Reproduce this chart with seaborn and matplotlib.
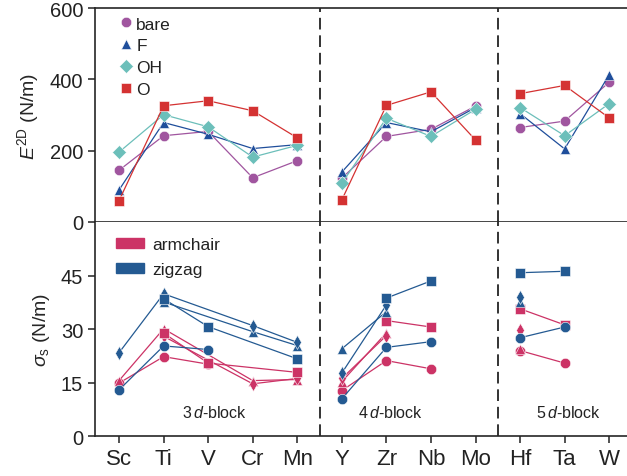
import numpy as np
import pandas as pd
import seaborn as sns
import matplotlib.pyplot as plt
from matplotlib.lines import Line2D
from matplotlib.patches import Patch

nan = np.nan

# elements on the x axis and the d-block they belong to
elements = ['Sc', 'Ti', 'V', 'Cr', 'Mn', 'Y', 'Zr', 'Nb', 'Mo', 'Hf', 'Ta', 'W']
blocks = ['3d'] * 5 + ['4d'] * 4 + ['5d'] * 3
terminations = ['bare', 'F', 'OH', 'O']

# 2D Young's modulus (N/m)
e2d_bare = [145, 242, 254, 124, 172, 123, 240, 260, 325, 265, 283, 392]
e2d_F = [90, 279, 246, 206, 217, 140, 279, 253, 321, 304, 205, 413]
e2d_OH = [196, 301, 267, 182, 215, 109, 291, 240, 316, 321, 242, 332]
e2d_O = [60, 326, 340, 312, 236, 62, 327, 365, 230, 360, 383, 292]

# ideal strength (N/m), armchair direction
arm_bare = [14.9, 22.3, 20.2, nan, nan, 12.8, 21.2, 18.9, nan, 24.0, 20.5, nan]
arm_F = [15.6, 30.1, nan, 15.6, 15.9, 15.3, 29.0, nan, nan, 24.5, nan, nan]
arm_OH = [nan, 28.0, nan, 14.7, 16.2, 16.2, 28.2, nan, nan, 29.9, nan, nan]
arm_O = [nan, 28.9, 20.5, nan, 17.9, nan, 32.4, 30.6, nan, 35.7, 31.2, nan]

# ideal strength (N/m), zigzag direction
zz_bare = [13.0, 25.3, 24.3, nan, nan, 10.5, 24.9, 26.5, nan, 27.6, 30.6, nan]
zz_F = [nan, 37.6, nan, 29.3, 25.4, 24.5, 34.9, nan, nan, 37.7, nan, nan]
zz_OH = [23.4, 39.9, nan, 31.0, 26.3, 17.7, 36.8, nan, nan, 39.0, nan, nan]
zz_O = [nan, 38.5, 30.7, nan, 21.7, nan, 38.7, 43.5, nan, 45.8, 46.2, nan]

term_colors = {'bare': '#a0559f', 'F': '#1f4e9b', 'OH': '#6cbfba', 'O': '#d43232'}
dir_colors = {'armchair': '#cc3366', 'zigzag': '#245a92'}

sns.set_theme(style='ticks')
plt.rcParams['font.family'] = ['Liberation Sans', 'DejaVu Sans']
plt.rcParams['mathtext.fontset'] = 'custom'
plt.rcParams['mathtext.rm'] = 'Liberation Sans'
plt.rcParams['mathtext.it'] = 'Liberation Sans:italic'
plt.rcParams['axes.linewidth'] = 1.2
plt.rcParams['text.color'] = '#222222'
plt.rcParams['xtick.color'] = '#222222'
plt.rcParams['ytick.color'] = '#222222'

# long tables for seaborn
top_rows = []
for term, vals in zip(terminations, [e2d_bare, e2d_F, e2d_OH, e2d_O]):
    for i, v in enumerate(vals):
        top_rows.append({'x': i, 'value': v, 'term': term, 'block': blocks[i]})
top_df = pd.DataFrame(top_rows)

low_rows = []
low_series = {
    'armchair': [arm_bare, arm_F, arm_OH, arm_O],
    'zigzag': [zz_bare, zz_F, zz_OH, zz_O],
}
for direction, series in low_series.items():
    for term, vals in zip(terminations, series):
        for i, v in enumerate(vals):
            low_rows.append({'x': i, 'value': v, 'term': term,
                             'direction': direction, 'block': blocks[i]})
low_df = pd.DataFrame(low_rows).dropna()

fig = plt.figure(figsize=(6.27, 4.77), dpi=100)
ax1 = fig.add_axes([0.1515, 0.5325, 0.8485, 0.4485])
ax2 = fig.add_axes([0.1515, 0.0832, 0.8485, 0.4493])

# top: E2D
sns.lineplot(data=top_df, x='x', y='value', hue='term', style='term',
             units='block', estimator=None, palette=term_colors,
             markers={'bare': 'o', 'F': '^', 'OH': 'D', 'O': 's'}, dashes=False,
             markersize=7.5, linewidth=0.9, markeredgecolor='white',
             markeredgewidth=0.4, legend=False, ax=ax1)

# bottom: ideal strength
sns.lineplot(data=low_df, x='x', y='value', hue='direction', style='term',
             units='block', estimator=None, palette=dir_colors,
             markers={'bare': 'o', 'F': '^', 'OH': 'd', 'O': 's'}, dashes=False,
             markersize=7.5, linewidth=0.9, markeredgecolor='white',
             markeredgewidth=0.4, legend=False, ax=ax2)

for ax in (ax1, ax2):
    ax.set_xlim(-0.54, 11.4)
    ax.axvline(4.5, color='#111111', lw=1.2, ls=(0, (7, 3.5)))
    ax.axvline(8.5, color='#111111', lw=1.2, ls=(0, (7, 3.5)))
    ax.spines['right'].set_visible(False)
    ax.tick_params(axis='y', labelsize=14.5, length=5, width=1.1)
    ax.set_xlabel('')

ax1.set_ylim(0, 600)
ax1.set_yticks([0, 200, 400, 600])
ax1.set_xticks([])
ax1.set_ylabel(r'$E^{\mathrm{2D}}$ (N/m)', fontsize=14, labelpad=6)

ax2.set_ylim(0, 60)
ax2.set_yticks([0, 15, 30, 45])
ax2.spines['top'].set_visible(False)
ax2.set_xticks(range(len(elements)))
ax2.set_xticklabels(elements)
ax2.tick_params(axis='x', labelsize=16, length=5, width=1.1)
ax2.set_ylabel(r'$\sigma_{\mathrm{s}}$ (N/m)', fontsize=14, labelpad=6)

ax2.text(2.15, 6.8, r'3$\,\mathit{d}$-block', ha='center', va='center', fontsize=11.5)
ax2.text(6.08, 6.8, r'4$\,\mathit{d}$-block', ha='center', va='center', fontsize=11.5)
ax2.text(10.08, 6.8, r'5$\,\mathit{d}$-block', ha='center', va='center', fontsize=11.5)

top_handles = [
    Line2D([], [], ls='none', marker=m, color=term_colors[t], markersize=7.5,
           markeredgecolor='white', markeredgewidth=0.4)
    for t, m in zip(terminations, ['o', '^', 'D', 's'])
]
ax1.legend(top_handles, terminations, loc='upper left', frameon=False,
           fontsize=12.5, handlelength=0.8, handletextpad=0.2,
           labelspacing=0.38, borderaxespad=0.3, bbox_to_anchor=(0.022, 1.018))

low_handles = [Patch(color=dir_colors[d]) for d in ['armchair', 'zigzag']]
ax2.legend(low_handles, ['armchair', 'zigzag'], loc='upper left', frameon=False,
           fontsize=12.5, handlelength=1.6, handleheight=0.55, handletextpad=0.45,
           labelspacing=0.55, borderaxespad=0.3, bbox_to_anchor=(0.017, 0.985))

fig.savefig('out.png', dpi=100)
